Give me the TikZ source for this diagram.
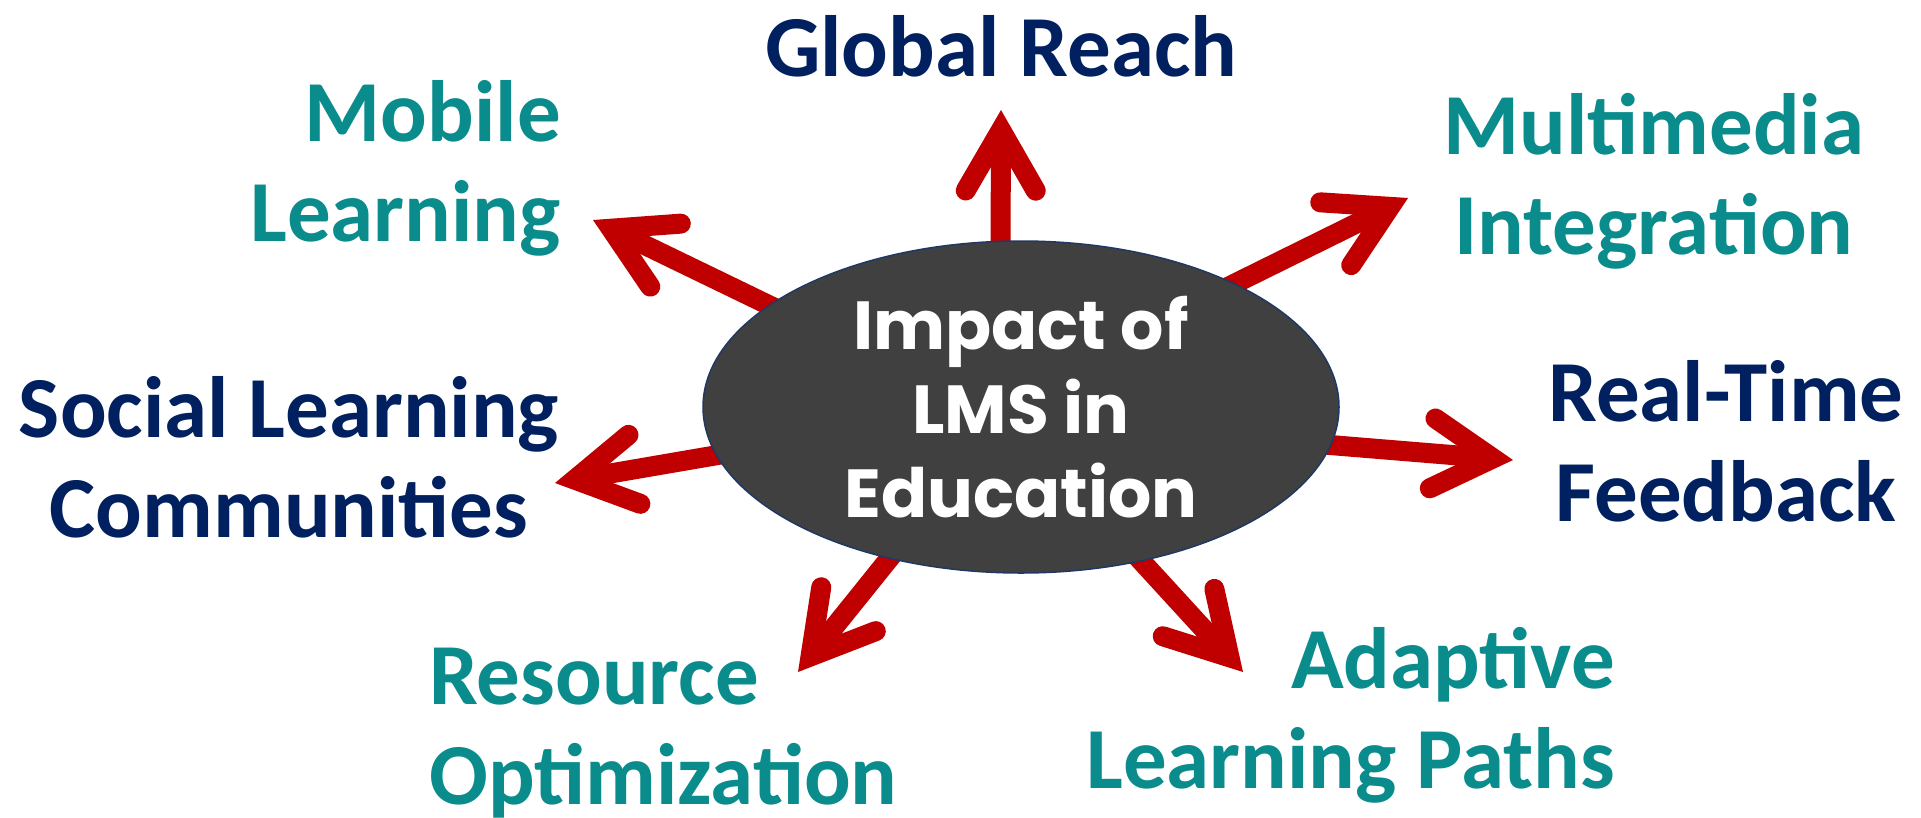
\documentclass[tikz,border=0pt]{standalone}
\usepackage{fontspec}
\setmainfont{Carlito}
\newfontfamily\gothic{Poppins}
\usetikzlibrary{calc,backgrounds,shapes.geometric}
\definecolor{navy}{HTML}{002060}
\definecolor{tealc}{HTML}{0A8C8C}
\definecolor{arrowred}{HTML}{C00000}
\definecolor{hubfill}{HTML}{404040}
\definecolor{hubline}{HTML}{1F3864}
\tikzset{
  shaftline/.style={draw=arrowred, line width=20pt, shorten <=-30pt, shorten >=4pt},
  headline/.style={draw=arrowred, line width=20pt, line cap=round, line join=miter},
  lbl/.style={font=\bfseries\fontsize{87}{100}\selectfont, inner sep=0pt},
  hubshape/.style={ellipse, fill=hubfill, draw=hubline, line width=1.5pt,
    minimum width=636pt, minimum height=332pt, inner sep=0pt},
}
% #1: border angle on the hub, #2: name of the apex coordinate
\newcommand\lmsarrow[2]{%
  \coordinate (v#2) at ($(#2)!20pt!(hub.#1)$);
  \draw[shaftline] (hub.#1) -- (v#2);
  \draw[headline] ($(v#2)!70pt!30:(hub.#1)$) -- (v#2) -- ($(v#2)!70pt!-30:(hub.#1)$);
}
\begin{document}
\begin{tikzpicture}[x=1pt,y=-1pt]
\useasboundingbox (0,0) rectangle (1921,817);
\node[hubshape] (hub) at (1021,407) {};
\node[font=\gothic\bfseries\fontsize{68}{84}\selectfont, text=white, align=center, inner sep=0pt, anchor=base] (hubtext) at (1021,517) {Impact of\\LMS in\\Education};
\coordinate (tU) at (1001,110);
\coordinate (tM) at (593,220);
\coordinate (tMM) at (1408,198);
\coordinate (tR) at (1513,460);
\coordinate (tS) at (555,483);
\coordinate (tRe) at (798,672);
\coordinate (tA) at (1243,672);
\begin{scope}[on background layer]
\fill[white] (0,0) rectangle (1921,817);
\lmsarrow{97}{tU}
\lmsarrow{158}{tM}
\lmsarrow{30}{tMM}
\lmsarrow{-7}{tR}
\lmsarrow{189}{tS}
\lmsarrow{229}{tRe}
\lmsarrow{-52}{tA}
\end{scope}
\node[lbl, text=navy, anchor=base] (global) at (1001,76) {Global Reach};
\node[lbl, text=tealc, align=right, anchor=base east] (mobile) at (561,241) {Mobile\\Learning};
\node[lbl, text=tealc, align=center, anchor=base] (multi) at (1654,254) {Multimedia\\Integration};
\node[lbl, text=navy, align=center, anchor=base] (social) at (289,537) {Social Learning\\Communities};
\node[lbl, text=navy, align=center, anchor=base] (realtime) at (1726,521) {Real-Time\\Feedback};
\node[lbl, text=tealc, align=left, anchor=base west] (resource) at (429,804) {Resource\\Optimization};
\node[lbl, text=tealc, align=right, anchor=base east] (adaptive) at (1615,788) {Adaptive\\Learning Paths};
\end{tikzpicture}
\end{document}
